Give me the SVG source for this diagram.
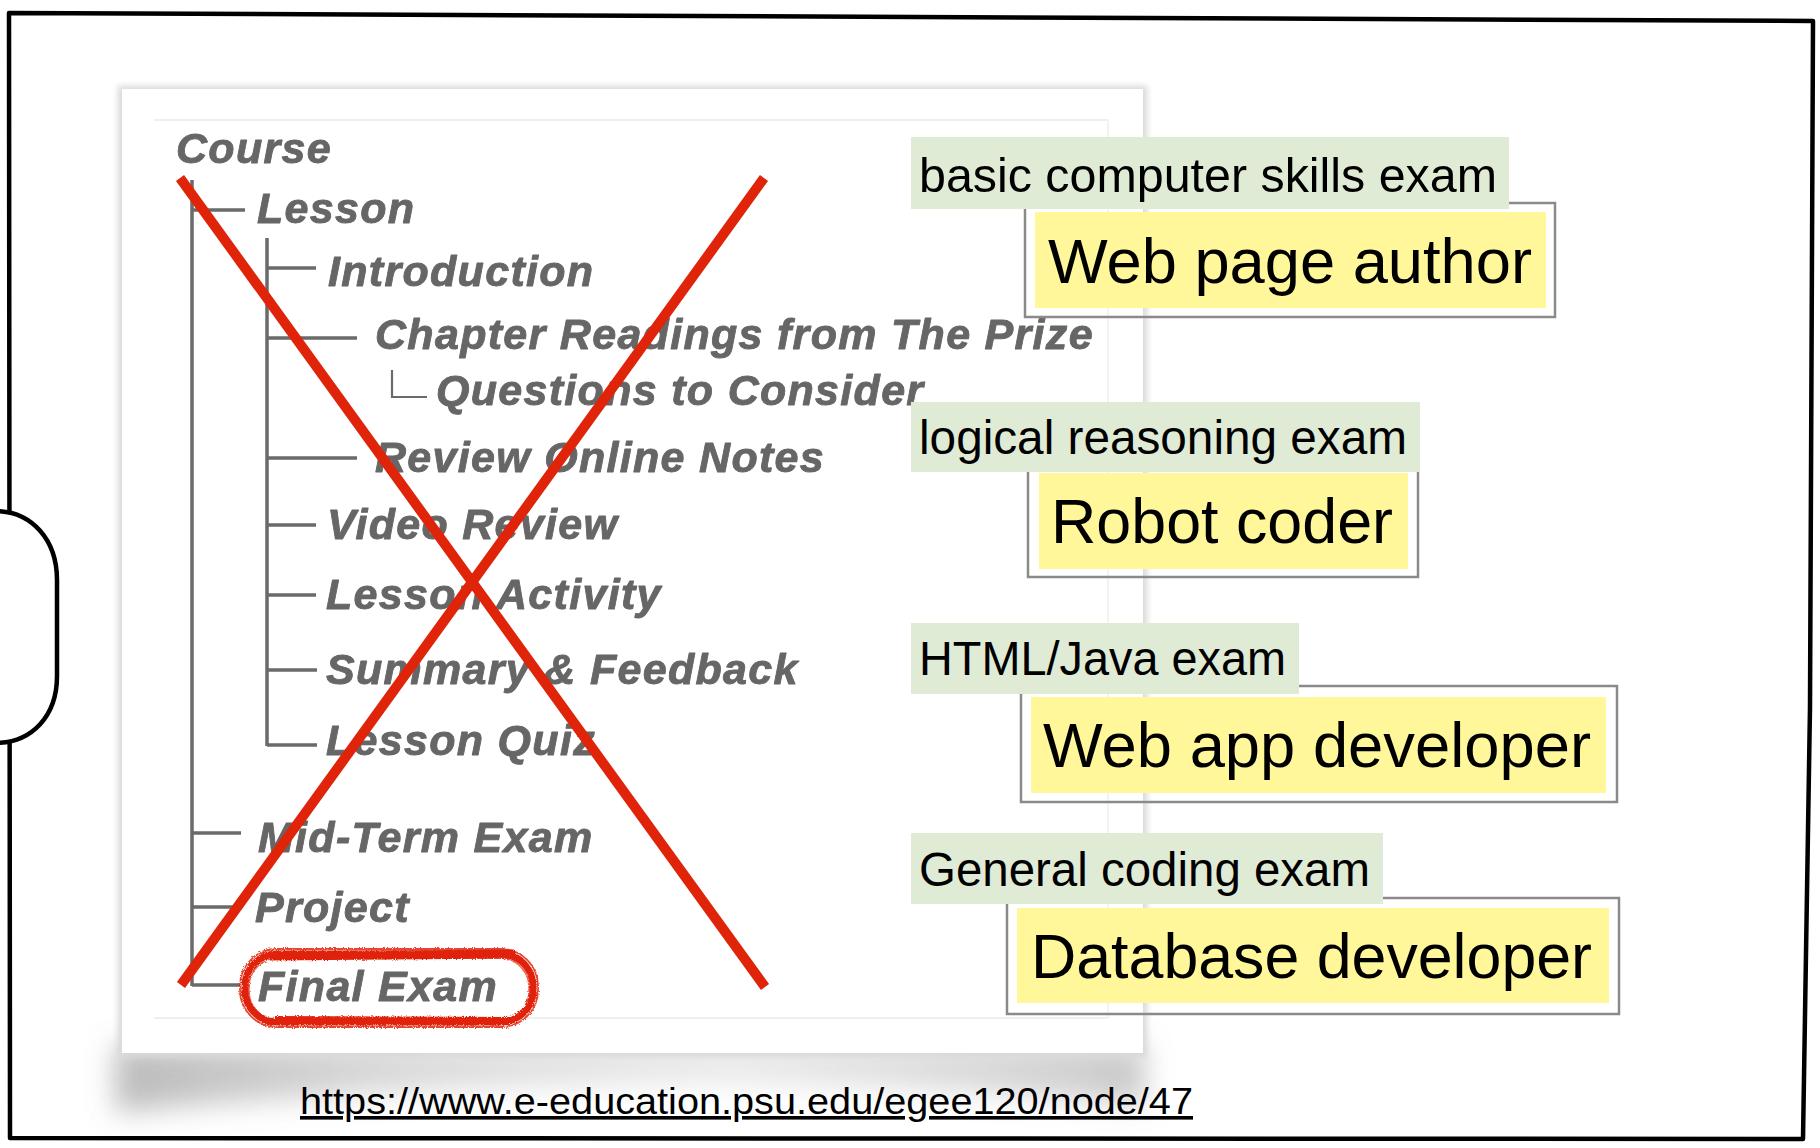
<svg xmlns="http://www.w3.org/2000/svg" width="1820" height="1148" viewBox="0 0 1820 1148">
<defs>
  <filter id="soft" x="-5%" y="-20%" width="110%" height="140%"><feGaussianBlur stdDeviation="0.5"/></filter>
  <filter id="edgeBlur" x="-5%" y="-5%" width="110%" height="110%"><feGaussianBlur stdDeviation="3"/></filter>
  <filter id="curlBlur" x="-10%" y="-100%" width="120%" height="300%"><feGaussianBlur stdDeviation="14"/></filter>
  <filter id="rough" x="-5%" y="-20%" width="110%" height="140%"><feTurbulence type="fractalNoise" baseFrequency="0.9" numOctaves="2" result="n"/><feDisplacementMap in="SourceGraphic" in2="n" scale="4"/></filter>
  <linearGradient id="curl" x1="0" x2="1" y1="0" y2="0">
    <stop offset="0" stop-color="#777" stop-opacity="0.5"/>
    <stop offset="0.3" stop-color="#999" stop-opacity="0.35"/>
    <stop offset="0.6" stop-color="#aaa" stop-opacity="0.25"/>
    <stop offset="1" stop-color="#888" stop-opacity="0.45"/>
  </linearGradient>
</defs>
<style>
  .frame{fill:none;stroke:#000;stroke-width:4.5;stroke-linejoin:round;stroke-linecap:round}
  .bump{fill:#fff;stroke:#000;stroke-width:4.5}
  .tree{font-family:"Liberation Sans",Arial,sans-serif;font-weight:bold;font-style:italic;font-size:43px;letter-spacing:1.3px;fill:#666;stroke:#666;stroke-width:0.9;stroke-linejoin:round}
  .branch{stroke:#6a6a6a;stroke-width:3.5;fill:none}
  .tick{stroke:#6a6a6a;stroke-width:2.2;fill:none}
  .cross{stroke:#e0240a;stroke-width:10;fill:none}
  .ring{fill:none;stroke:#e0240a}
  .label-bg{fill:#e0ebd6}
  .label{font-family:"Liberation Sans",Arial,sans-serif;font-size:48px;fill:#000}
  .role-frame{fill:none;stroke:#8a8a8a;stroke-width:2.5}
  .role-bg{fill:#fff799}
  .role{font-family:"Liberation Sans",Arial,sans-serif;font-size:63px;fill:#000}
  .url{font-family:"Liberation Sans",Arial,sans-serif;font-size:36px;fill:#000;text-decoration:underline}
</style>
<rect width="1820" height="1148" fill="#fff"/>

<!-- outer hand-drawn frame -->
<path class="frame" d="M9 13 L1813 21 L1810 707 L1803 1139 L10 1138 Z"/>
<path class="bump" d="M-5 511 C32 511 57 540 57 580 L57 676 C57 716 32 743 -5 743"/>

<!-- screenshot panel -->
<g id="panel">
  <path d="M115 1045 L1145 1045 L1145 1105 Q700 1060 115 1112 Z" fill="url(#curl)" filter="url(#curlBlur)"/>
  <rect x="118" y="86" width="1029" height="971" fill="#d8d8d8" filter="url(#edgeBlur)"/>
  <rect x="122" y="89" width="1021" height="964" fill="#fff"/>
  <line x1="154" y1="120" x2="1108" y2="120" stroke="#efefef" stroke-width="2"/>
  <line x1="154" y1="1018" x2="1108" y2="1018" stroke="#efefef" stroke-width="2"/>
  <line x1="1108" y1="120" x2="1108" y2="1018" stroke="#f3f3f3" stroke-width="2"/>
</g>

<!-- tree connectors -->
<g id="connectors" filter="url(#soft)">
  <line class="branch" x1="192" y1="180" x2="192" y2="986"/>
  <line class="branch" x1="192" y1="210" x2="245" y2="210"/>
  <line class="branch" x1="267" y1="238" x2="267" y2="746"/>
  <line class="branch" x1="267" y1="268" x2="316" y2="268"/>
  <line class="branch" x1="267" y1="338" x2="357" y2="338"/>
  <path class="tick" d="M392 370 L392 397 L427 397"/>
  <line class="branch" x1="267" y1="458" x2="357" y2="458"/>
  <line class="branch" x1="267" y1="525" x2="316" y2="525"/>
  <line class="branch" x1="267" y1="595" x2="316" y2="595"/>
  <line class="branch" x1="267" y1="670" x2="317" y2="670"/>
  <line class="branch" x1="267" y1="745" x2="317" y2="745"/>
  <line class="branch" x1="192" y1="833" x2="241" y2="833"/>
  <line class="branch" x1="192" y1="907" x2="240" y2="907"/>
  <line class="branch" x1="192" y1="985" x2="240" y2="985"/>
</g>

<!-- tree nodes -->
<g filter="url(#soft)">
  <g id="n-course"><text class="tree" x="176" y="163">Course</text></g>
  <g id="n-lesson"><text class="tree" x="257" y="223">Lesson</text></g>
  <g id="n-intro"><text class="tree" x="328" y="286">Introduction</text></g>
  <g id="n-chapter"><text class="tree" x="375" y="349">Chapter Readings from The Prize</text></g>
  <g id="n-questions"><text class="tree" x="436" y="405">Questions to Consider</text></g>
  <g id="n-review"><text class="tree" x="375" y="472">Review Online Notes</text></g>
  <g id="n-video"><text class="tree" x="327" y="539">Video Review</text></g>
  <g id="n-activity"><text class="tree" x="326" y="609">Lesson Activity</text></g>
  <g id="n-summary"><text class="tree" x="326" y="684">Summary &amp; Feedback</text></g>
  <g id="n-quiz"><text class="tree" x="326" y="755">Lesson Quiz</text></g>
  <g id="n-midterm"><text class="tree" x="258" y="852">Mid-Term Exam</text></g>
  <g id="n-project"><text class="tree" x="255" y="922">Project</text></g>
  <g id="n-final"><text class="tree" x="258" y="1001">Final Exam</text></g>
</g>

<!-- red cross and ring -->
<g id="cross">
  <line class="cross" x1="180" y1="178" x2="765" y2="987"/>
  <line class="cross" x1="764" y1="178" x2="181" y2="985"/>
</g>
<g id="ring" filter="url(#rough)">
  <rect class="ring" x="245" y="954" width="288" height="68" rx="32" stroke-width="7"/>
  <rect class="ring" x="240" y="949" width="298" height="78" rx="37" stroke-width="1.8" opacity="0.85"/>
  <rect class="ring" x="249" y="958" width="280" height="62" rx="29" stroke-width="1.5" opacity="0.7"/>
  <path class="ring" d="M270 956 L515 954" stroke-width="9"/>
  <path class="ring" d="M275 1020 L510 1021" stroke-width="8"/>
</g>

<!-- right boxes -->
<g id="box-webpage">
  <rect class="role-frame" x="1025" y="203" width="530" height="114"/>
  <rect class="role-bg" x="1035" y="212" width="511" height="96"/>
  <text class="role" x="1048" y="283" textLength="484" lengthAdjust="spacingAndGlyphs">Web page author</text>
  <rect class="label-bg" x="911" y="137" width="598" height="72"/>
  <text class="label" x="919" y="192" textLength="578" lengthAdjust="spacingAndGlyphs">basic computer skills exam</text>
</g>
<g id="box-robot">
  <rect class="role-frame" x="1028" y="466" width="390" height="111"/>
  <rect class="role-bg" x="1039" y="473" width="369" height="96"/>
  <text class="role" x="1051" y="543" textLength="342" lengthAdjust="spacingAndGlyphs">Robot coder</text>
  <rect class="label-bg" x="911" y="402" width="509" height="70"/>
  <text class="label" x="919" y="454" textLength="488" lengthAdjust="spacingAndGlyphs">logical reasoning exam</text>
</g>
<g id="box-webapp">
  <rect class="role-frame" x="1021" y="686" width="596" height="116"/>
  <rect class="role-bg" x="1031" y="697" width="575" height="96"/>
  <text class="role" x="1043" y="767" textLength="548" lengthAdjust="spacingAndGlyphs">Web app developer</text>
  <rect class="label-bg" x="911" y="623" width="388" height="71"/>
  <text class="label" x="919" y="675" textLength="367" lengthAdjust="spacingAndGlyphs">HTML/Java exam</text>
</g>
<g id="box-database">
  <rect class="role-frame" x="1007" y="898" width="612" height="116"/>
  <rect class="role-bg" x="1017" y="908" width="592" height="95"/>
  <text class="role" x="1031" y="978" textLength="561" lengthAdjust="spacingAndGlyphs">Database developer</text>
  <rect class="label-bg" x="911" y="833" width="472" height="71"/>
  <text class="label" x="919" y="886" textLength="451" lengthAdjust="spacingAndGlyphs">General coding exam</text>
</g>

<g id="source">
  <text class="url" x="300" y="1114" textLength="893" lengthAdjust="spacingAndGlyphs">https://www.e-education.psu.edu/egee120/node/47</text>
</g>
</svg>
